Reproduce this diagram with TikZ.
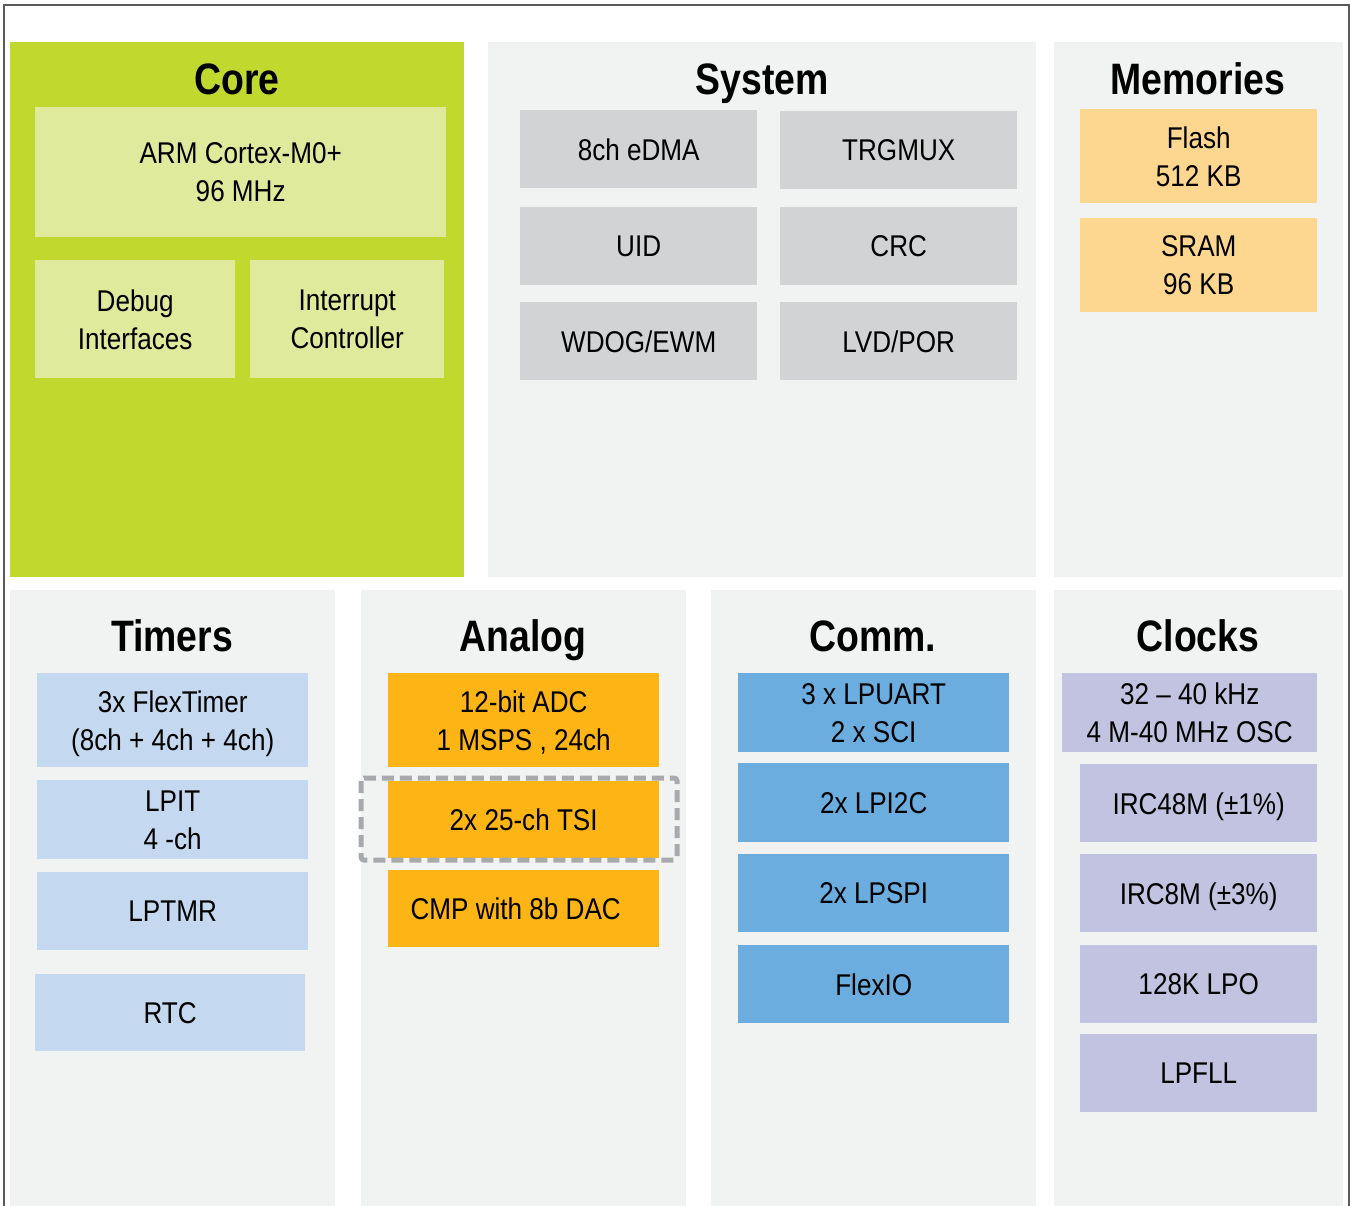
\documentclass[tikz,border=0pt]{standalone}
\usepackage{fontspec}
\setmainfont{Liberation Sans}[FakeStretch=0.85]
\newfontfamily\bodyfont{Liberation Sans}[FakeStretch=0.87]
\definecolor{coregreen}{HTML}{C1D82F}
\definecolor{corelight}{HTML}{DFEA9C}
\definecolor{panelgray}{HTML}{F1F2F2}
\definecolor{sysgray}{HTML}{D1D3D4}
\definecolor{memorange}{HTML}{FDD68F}
\definecolor{timerblue}{HTML}{C4D9F0}
\definecolor{analogorange}{HTML}{FDB515}
\definecolor{commblue}{HTML}{6CADDF}
\definecolor{clockviolet}{HTML}{C2C3E0}
\definecolor{dashgray}{HTML}{A7A9AC}
\begin{document}
\begin{tikzpicture}[x=1pt,y=-1pt,
	title/.style={anchor=base,inner sep=0pt,font=\fontsize{44}{48}\selectfont\bfseries},
	blk/.style={fill=#1,anchor=north west,inner sep=0pt,align=center,text depth=0pt,
		font=\bodyfont\fontsize{30}{38}\selectfont},
	sysblk/.style={blk=sysgray,minimum width=237,minimum height=78},
	memblk/.style={blk=memorange,minimum width=237,minimum height=94},
	tmrblk/.style={blk=timerblue,minimum width=271},
	anablk/.style={blk=analogorange,minimum width=271},
	comblk/.style={blk=commblue,minimum width=271,minimum height=79},
	clkblk/.style={blk=clockviolet,minimum width=237,minimum height=78}]
	\useasboundingbox (0,0) rectangle (1350,1206);
	\draw[color=black!65,line width=1.5] (4,1210)--(4,5)--(1349,5)--(1349,1210);

	% panels
	\fill[coregreen](10,42)rectangle(464,577);
	\fill[panelgray](488,42)rectangle(1036,577);
	\fill[panelgray](1054,42)rectangle(1343,577);
	\fill[panelgray](10,590)rectangle(335,1210);
	\fill[panelgray](361,590)rectangle(686,1210);
	\fill[panelgray](711,590)rectangle(1036,1210);
	\fill[panelgray](1054,590)rectangle(1343,1210);

	\node[title] (tcore) at (237,95) {Core};
	\node[title] (tsys) at (762,95) {System};
	\node[title] (tmem) at (1198,95) {Memories};
	\node[title] (ttmr) at (172,651) {Timers};
	\node[title] (tana) at (523,651) {Analog};
	\node[title] (tcom) at (873,651) {Comm.};
	\node[title] (tclk) at (1198,651) {Clocks};

	% core
	\node[blk=corelight,minimum width=411,minimum height=130] (arm) at (35,107) {ARM Cortex-M0+\\96 MHz};
	\node[blk=corelight,minimum width=200,minimum height=118] (debug) at (35,260) {Debug\\Interfaces};
	\node[blk=corelight,minimum width=194,minimum height=118] (intc) at (250,260) {Interrupt\\Controller};

	% system
	\node[sysblk] (edma) at (520,110) {8ch eDMA};
	\node[sysblk] (trgmux) at (780,111) {TRGMUX};
	\node[sysblk] (uid) at (520,207) {UID};
	\node[sysblk] (crc) at (780,207) {CRC};
	\node[sysblk] (wdog) at (520,302) {WDOG/EWM};
	\node[sysblk] (lvd) at (780,302) {LVD/POR};

	% memories
	\node[memblk] (flash) at (1080,109) {Flash\\512 KB};
	\node[memblk] (sram) at (1080,218) {SRAM\\96 KB};

	% timers
	\node[tmrblk,minimum height=94] (ftm) at (37,673) {3x FlexTimer\\(8ch + 4ch + 4ch)};
	\node[tmrblk,minimum height=79] (lpit) at (37,780) {LPIT\\4 -ch};
	\node[tmrblk,minimum height=78] (lptmr) at (37,872) {LPTMR};
	\node[tmrblk,minimum width=270,minimum height=77] (rtc) at (35,974) {RTC};

	% analog
	\node[anablk,minimum height=94] (adc) at (388,673) {12-bit ADC\\1 MSPS , 24ch};
	\node[anablk,minimum height=77] (tsi) at (388,781) {2x 25-ch TSI};
	\node[anablk,minimum height=77] (cmp) at (388,870) {CMP with 8b DAC\hspace*{16pt}};
	\draw[dashgray,line width=5,dash pattern=on 12 off 6,rounded corners=3]
		(361,778) rectangle (677,860);

	% comm
	\node[comblk] (lpuart) at (738,673) {3 x LPUART\\2 x SCI};
	\node[comblk] (lpi2c) at (738,763) {2x LPI2C};
	\node[comblk,minimum height=78] (lpspi) at (738,854) {2x LPSPI};
	\node[comblk,minimum height=78] (flexio) at (738,945) {FlexIO};

	% clocks
	\node[clkblk,minimum width=255,minimum height=79] (osc) at (1062,673) {32 – 40 kHz\\4 M-40 MHz OSC};
	\node[clkblk] (irc48) at (1080,764) {IRC48M (±1\%)};
	\node[clkblk] (irc8) at (1080,854) {IRC8M (±3\%)};
	\node[clkblk] (lpo) at (1080,945) {128K LPO};
	\node[clkblk] (lpfll) at (1080,1034) {LPFLL};
\end{tikzpicture}
\end{document}
